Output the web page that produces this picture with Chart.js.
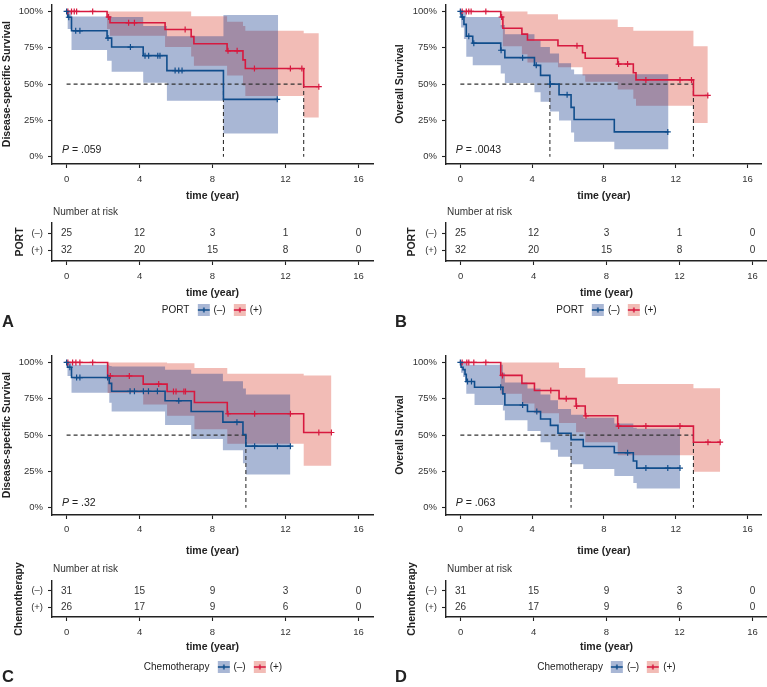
<!DOCTYPE html>
<html>
<head>
<meta charset="utf-8">
<script src="https://cdn.jsdelivr.net/npm/chart.js@4.4.1/dist/chart.umd.min.js"></script>
<style>
  body { margin: 0; background: #fff; }
  #fig { position: relative; width: 767px; height: 687px; overflow: hidden;
         font-family: "Liberation Sans", Arial, Helvetica, sans-serif; color: #222; }
  #fig > canvas { position: absolute; }
  .legend { position: absolute; display: flex; align-items: center; font-size: 10px;
            color: #222; transform: translate(-50%, -50%); white-space: nowrap; }
  .letter { position: absolute; font-weight: bold; font-size: 16.5px; line-height: 16px;
            transform: translateY(-50%); }
</style>
</head>
<body>
<div id="fig"></div>
<script>
// ---- data ----
const yearTicks = [0, 4, 8, 12, 16];
const survTicks = [0, 0.25, 0.5, 0.75, 1];
const groupLabels = ['(–)', '(+)'];
const pValues = ['.059', '.0043', '.32', '.063'];

// A: disease-specific survival, PORT
const aNegTime = [0, 0.06, 0.27, 2.22, 2.47, 4.2, 5.5, 8.6];
const aNegSurv = [1, 0.96, 0.867, 0.817, 0.755, 0.696, 0.593, 0.395];
const aNegLow  = [1, 0.88, 0.735, 0.66, 0.585, 0.51, 0.385, 0.16];
const aNegHigh = [1, 1, 0.965, 0.965, 0.962, 0.9, 0.83, 0.975];
const aNegEnd = 11.6;
const aNegCensor = [0, 0.12, 0.5, 0.73, 2.27, 3.5, 4.3, 4.5, 5.0, 5.12, 5.95, 6.15, 6.33, 11.55];
const aPosTime = [0, 2.22, 2.38, 5.4, 6.83, 6.98, 8.8, 9.67, 9.8, 13.0];
const aPosSurv = [1, 0.962, 0.922, 0.876, 0.827, 0.778, 0.729, 0.667, 0.607, 0.482];
const aPosLow  = [1, 0.88, 0.833, 0.755, 0.69, 0.627, 0.56, 0.49, 0.418, 0.27];
const aPosHigh = [1, 1, 1, 1, 0.967, 0.967, 0.93, 0.9, 0.867, 0.85];
const aPosEnd = 13.83;
const aPosCensor = [0.07, 0.27, 0.42, 0.55, 1.43, 2.3, 3.4, 3.72, 6.5, 8.85, 9.35, 10.3, 12.27, 12.9, 13.83];

// B: overall survival, PORT
const bNegTime = [0, 0.04, 0.2, 0.33, 0.69, 2.25, 2.48, 4.13, 4.47, 4.99, 5.5, 6.17, 6.34, 8.58];
const bNegSurv = [1, 0.962, 0.911, 0.829, 0.782, 0.733, 0.682, 0.629, 0.56, 0.5, 0.427, 0.34, 0.256, 0.171];
const bNegLow  = [1, 0.889, 0.81, 0.689, 0.629, 0.573, 0.507, 0.444, 0.378, 0.311, 0.249, 0.167, 0.104, 0.051];
const bNegHigh = [1, 1, 1, 0.962, 0.962, 0.907, 0.844, 0.8, 0.756, 0.71, 0.644, 0.6, 0.567, 0.567];
const bNegEnd = 11.6;
const bNegCensor = [0, 0.11, 0.47, 0.75, 2.27, 3.47, 4.23, 5.02, 5.95, 11.56];
const bPosTime = [0, 2.25, 2.37, 3.43, 3.74, 5.44, 6.81, 6.96, 8.77, 9.64, 9.79, 12.99];
const bPosSurv = [1, 0.962, 0.884, 0.844, 0.804, 0.764, 0.716, 0.678, 0.638, 0.578, 0.529, 0.422];
const bPosLow  = [1, 0.89, 0.76, 0.705, 0.649, 0.616, 0.56, 0.516, 0.462, 0.4, 0.351, 0.233];
const bPosHigh = [1, 1, 1, 1, 0.98, 0.944, 0.944, 0.944, 0.893, 0.867, 0.867, 0.76];
const bPosEnd = 13.79;
const bPosCensor = [0.1, 0.33, 0.47, 0.6, 1.42, 2.3, 6.5, 8.82, 9.32, 10.34, 12.24, 12.88, 13.79];

// C: disease-specific survival, chemotherapy
const cNegTime = [0, 0.05, 0.27, 2.34, 2.47, 5.4, 6.83, 8.57, 9.67, 9.83];
const cNegSurv = [1, 0.967, 0.896, 0.856, 0.802, 0.736, 0.662, 0.589, 0.504, 0.424];
const cNegLow  = [1, 0.907, 0.791, 0.722, 0.662, 0.569, 0.473, 0.396, 0.307, 0.229];
const cNegHigh = [1, 1, 0.984, 0.975, 0.973, 0.95, 0.922, 0.87, 0.82, 0.78];
const cNegEnd = 12.27;
const cNegCensor = [0, 0.18, 0.55, 0.73, 2.25, 3.48, 3.72, 4.21, 4.49, 4.98, 6.15, 9.34, 10.31, 11.56, 12.27];
const cPosTime = [0, 2.25, 4.2, 5.51, 7.01, 8.81, 13.0];
const cPosSurv = [1, 0.907, 0.851, 0.8, 0.724, 0.647, 0.518];
const cPosLow  = [1, 0.789, 0.711, 0.633, 0.54, 0.44, 0.289];
const cPosHigh = [1, 1, 1, 0.995, 0.962, 0.922, 0.911];
const cPosEnd = 14.52;
const cPosCensor = [0.07, 0.33, 0.51, 0.73, 1.43, 2.4, 3.44, 5.05, 5.86, 6.0, 6.43, 6.52, 8.85, 10.31, 12.27, 13.83, 14.52];

// D: overall survival, chemotherapy
const dNegTime = [0, 0.04, 0.15, 0.26, 0.33, 0.79, 2.37, 2.48, 3.74, 4.47, 5.02, 5.44, 6.17, 6.85, 8.58, 9.64, 9.83];
const dNegSurv = [1, 0.967, 0.951, 0.918, 0.869, 0.829, 0.784, 0.707, 0.662, 0.611, 0.567, 0.513, 0.469, 0.422, 0.378, 0.322, 0.273];
const dNegLow  = [1, 0.93, 0.9, 0.86, 0.784, 0.707, 0.67, 0.602, 0.529, 0.451, 0.4, 0.351, 0.3, 0.267, 0.218, 0.17, 0.133];
const dNegHigh = [1, 1, 1, 1, 0.984, 0.984, 0.93, 0.862, 0.82, 0.78, 0.74, 0.68, 0.64, 0.62, 0.58, 0.55, 0.544];
const dNegEnd = 12.24;
const dNegCensor = [0, 0.4, 0.62, 2.25, 3.47, 4.26, 9.32, 10.34, 11.56, 12.24];
const dPosTime = [0, 2.25, 3.43, 4.13, 5.5, 6.45, 6.96, 8.77, 12.99];
const dPosSurv = [1, 0.911, 0.856, 0.807, 0.751, 0.7, 0.633, 0.562, 0.451];
const dPosLow  = [1, 0.784, 0.718, 0.651, 0.584, 0.52, 0.451, 0.362, 0.247];
const dPosHigh = [1, 1, 1, 1, 0.962, 0.962, 0.896, 0.851, 0.822];
const dPosEnd = 14.48;
const dPosCensor = [0.1, 0.36, 0.47, 0.75, 1.42, 2.35, 5.04, 5.9, 6.48, 7.0, 8.82, 10.34, 12.24, 13.8, 14.48];

// number at risk at yearTicks
const portRiskNeg = [25, 12, 3, 1, 0];
const portRiskPos = [32, 20, 15, 8, 0];
const chemoRiskNeg = [31, 15, 9, 3, 0];
const chemoRiskPos = [26, 17, 9, 6, 0];

// ---- styling ----
const FONT = '"Liberation Sans", Arial, Helvetica, sans-serif';
Chart.defaults.font.family = FONT;
Chart.defaults.color = '#333';
Chart.defaults.animation = false;

const BLUE = '#104d8c', RED = '#d7193f';
const BLUE_FILL = 'rgba(10,50,135,0.35)', RED_FILL = 'rgba(216,52,34,0.33)';
const INK = '#222';

const fig = document.getElementById('fig');

function addCanvas(left, top, w, h) {
  const c = document.createElement('canvas');
  c.width = w; c.height = h;
  c.style.left = left + 'px'; c.style.top = top + 'px';
  c.style.width = w + 'px'; c.style.height = h + 'px';
  fig.appendChild(c);
  return c;
}

function stepPoints(time, vals, end) {
  const pts = time.map((t, i) => ({x: t, y: vals[i]}));
  pts.push({x: end, y: vals[vals.length - 1]});
  return pts;
}
function survAt(time, surv, t) {
  let s = surv[0];
  for (let i = 0; i < time.length; i++) if (time[i] <= t) s = surv[i];
  return s;
}
function medianOf(time, surv) {
  for (let i = 0; i < surv.length; i++) if (surv[i] <= 0.5) return time[i];
  return null;
}

const annotate = {
  id: 'annotate',
  afterDatasetsDraw(chart, args, o) {
    const ctx = chart.ctx, a = chart.chartArea;
    ctx.save();
    ctx.fillStyle = INK;
    ctx.textBaseline = 'middle';
    if (o.pValue) {
      const x = chart.scales.x.getPixelForValue(-0.25);
      const y = chart.scales.y.getPixelForValue(o.pY);
      ctx.textAlign = 'left';
      ctx.font = 'italic 10.5px ' + FONT;
      ctx.fillText('P', x, y);
      const w = ctx.measureText('P').width;
      ctx.font = '10.5px ' + FONT;
      ctx.fillText(' = ' + o.pValue, x + w, y);
    }
    if (o.riskTitle) {
      ctx.textAlign = 'left';
      ctx.font = '10px ' + FONT;
      ctx.fillStyle = '#333';
      ctx.fillText('Number at risk', a.left + 1, a.top - o.titleGap);
    }
    if (o.counts) {
      ctx.textAlign = 'center';
      ctx.font = '10px ' + FONT;
      ctx.fillStyle = '#333';
      chart.data.datasets.forEach((ds, d) => {
        chart.getDatasetMeta(d).data.forEach((pt, i) => ctx.fillText(String(ds.counts[i]), pt.x, pt.y));
      });
    }
    ctx.restore();
  }
};

function xScale(P, tickPad, titlePB, h) {
  return {
    type: 'linear', min: -0.8, max: 16.8,
    afterBuildTicks: s => { s.ticks = yearTicks.map(v => ({value: v})); },
    afterFit: s => { s.height = h; s.paddingLeft = 0; s.paddingRight = 0; },
    ticks: {padding: tickPad, color: '#333', font: {size: 9.5}, maxRotation: 0, autoSkip: false},
    grid: {drawOnChartArea: false, drawTicks: true, tickLength: 4, color: INK, tickWidth: 1.1},
    border: {display: true, color: INK, width: 1.4},
    title: {display: true, text: 'time (year)', color: INK, font: {size: 10.5, weight: 'bold'},
            padding: {top: 0, bottom: titlePB}}
  };
}

function makePanel(P) {
  // survival curves
  const kmH = 165 + P.kmXH;
  const c1 = addCanvas(P.left, P.kmTop, P.width, kmH);
  const g = [
    {time: P.neg[0], surv: P.neg[1], low: P.neg[2], high: P.neg[3], end: P.neg[4], cens: P.neg[5], col: BLUE, fill: BLUE_FILL},
    {time: P.pos[0], surv: P.pos[1], low: P.pos[2], high: P.pos[3], end: P.pos[4], cens: P.pos[5], col: RED, fill: RED_FILL}
  ];
  const ds = [];
  g.forEach(s => {
    ds.push({data: stepPoints(s.time, s.low, s.end), stepped: true, borderWidth: 0, pointRadius: 0, fill: false, order: 4});
    ds.push({data: stepPoints(s.time, s.high, s.end), stepped: true, borderWidth: 0, pointRadius: 0,
             fill: '-1', backgroundColor: s.fill, order: 4});
  });
  const meds = g.map(s => medianOf(s.time, s.surv)).filter(m => m !== null);
  const mMax = Math.max(...meds);
  const medPts = [{x: 0, y: 0.5}, {x: mMax, y: 0.5}];
  meds.forEach(m => { medPts.push({x: m, y: null}, {x: m, y: 0.5}, {x: m, y: 0}); });
  ds.push({data: medPts, borderColor: '#333', borderWidth: 1.1, borderDash: [4, 3], pointRadius: 0,
           fill: false, spanGaps: false, order: 3});
  g.forEach(s => {
    ds.push({data: stepPoints(s.time, s.surv, s.end), stepped: true, borderColor: s.col, borderWidth: 1.6,
             pointRadius: 0, fill: false, order: 2});
    ds.push({data: s.cens.map(t => ({x: t, y: survAt(s.time, s.surv, t)})), showLine: false,
             pointStyle: 'cross', pointRadius: 3, pointBorderWidth: 1.2, pointBorderColor: s.col,
             pointBackgroundColor: s.col, order: 1});
  });
  new Chart(c1, {
    type: 'line',
    data: {datasets: ds},
    plugins: [annotate],
    options: {
      responsive: false, devicePixelRatio: 1,
      layout: {padding: {left: 0, right: P.padR, top: 0, bottom: 0}},
      plugins: {legend: {display: false}, tooltip: {enabled: false},
                annotate: {pValue: P.p, pY: P.pY}},
      scales: {
        x: xScale(P, P.kmTickPad, P.kmTitlePB, P.kmXH),
        y: {
          type: 'linear', min: -0.05, max: 1.05,
          afterBuildTicks: s => { s.ticks = survTicks.map(v => ({value: v})); },
          afterFit: s => { s.width = P.yW; s.paddingTop = 0; s.paddingBottom = 0; },
          ticks: {padding: 5, color: '#333', font: {size: 9.5}, callback: v => Math.round(v * 100) + '%'},
          grid: {drawOnChartArea: false, drawTicks: true, tickLength: 4, color: INK, tickWidth: 1.1},
          border: {display: true, color: INK, width: 1.4},
          title: {display: true, text: P.yTitle, color: INK, font: {size: 10.5, weight: 'bold'},
                  padding: {top: P.kmYTitlePT, bottom: 0}}
        }
      }
    }
  });

  // number at risk table
  const riskH = 23 + P.riskChartH + P.riskXH;
  const c2 = addCanvas(P.left, P.riskTop, P.width, riskH);
  new Chart(c2, {
    type: 'line',
    data: {datasets: [
      {data: yearTicks.map(t => ({x: t, y: 2})), counts: P.riskNeg, showLine: false, pointRadius: 0},
      {data: yearTicks.map(t => ({x: t, y: 1})), counts: P.riskPos, showLine: false, pointRadius: 0}
    ]},
    plugins: [annotate],
    options: {
      responsive: false, devicePixelRatio: 1,
      layout: {padding: {left: 0, right: P.padR, top: 23, bottom: 0}},
      plugins: {legend: {display: false}, tooltip: {enabled: false},
                annotate: {riskTitle: true, counts: true, titleGap: P.riskTitleGap}},
      scales: {
        x: xScale(P, P.riskTickPad, P.riskTitlePB, P.riskXH),
        y: {
          type: 'linear', min: 0.4, max: 2.6,
          afterBuildTicks: s => { s.ticks = [{value: 1}, {value: 2}]; },
          afterFit: s => { s.width = P.yW; s.paddingTop = 0; s.paddingBottom = 0; },
          ticks: {padding: 5, color: '#333', font: {size: 9.5},
                  callback: v => (v === 2 ? groupLabels[0] : groupLabels[1])},
          grid: {drawOnChartArea: false, drawTicks: true, tickLength: 4, color: INK, tickWidth: 1.1},
          border: {display: true, color: INK, width: 1.4},
          title: {display: true, text: P.factor, color: INK, font: {size: 10.5, weight: 'bold'},
                  padding: {top: P.riskYTitlePT, bottom: 0}}
        }
      }
    }
  });

  // legend
  const lg = document.createElement('div');
  lg.className = 'legend';
  lg.style.left = P.legendX + 'px';
  lg.style.top = P.legendY + 'px';
  const name = document.createElement('span');
  name.textContent = P.factor;
  lg.appendChild(name);
  g.forEach((s, i) => {
    const k = document.createElement('canvas');
    k.width = 12; k.height = 12;
    k.style.marginLeft = '8px';
    const x = k.getContext('2d');
    x.fillStyle = s.fill; x.fillRect(0, 0, 12, 12);
    x.strokeStyle = s.col; x.lineWidth = 1.5;
    x.beginPath(); x.moveTo(0, 6); x.lineTo(12, 6); x.moveTo(6, 3.5); x.lineTo(6, 8.5); x.stroke();
    lg.appendChild(k);
    const t = document.createElement('span');
    t.textContent = groupLabels[i];
    t.style.marginLeft = '4px';
    lg.appendChild(t);
  });
  fig.appendChild(lg);

  const L = document.createElement('div');
  L.className = 'letter';
  L.textContent = P.letter;
  L.style.left = P.letterX + 'px';
  L.style.top = P.letterY + 'px';
  fig.appendChild(L);
}

const base = {kmXH: 44, riskXH: 40, riskTitleGap: 10.5};
const panels = [
  Object.assign({}, base, {letter: 'A', left: 0, width: 380, yW: 52, padR: 7, kmTop: -1,
    kmTickPad: 6, kmTitlePB: 6, kmYTitlePT: 1, yTitle: 'Disease-specific Survival', p: pValues[0], pY: 0.045,
    riskTop: 200, riskChartH: 38, riskTickPad: 6, riskTitlePB: 2, riskYTitlePT: 14, factor: 'PORT',
    riskNeg: portRiskNeg, riskPos: portRiskPos, legendX: 212, legendY: 309.5, letterX: 2, letterY: 321,
    neg: [aNegTime, aNegSurv, aNegLow, aNegHigh, aNegEnd, aNegCensor],
    pos: [aPosTime, aPosSurv, aPosLow, aPosHigh, aPosEnd, aPosCensor]}),
  Object.assign({}, base, {letter: 'B', left: 380, width: 387, yW: 66, padR: 0, kmTop: -1,
    kmTickPad: 6, kmTitlePB: 6, kmYTitlePT: 13.5, yTitle: 'Overall Survival', p: pValues[1], pY: 0.045,
    riskTop: 200, riskChartH: 38, riskTickPad: 6, riskTitlePB: 2, riskYTitlePT: 25.7, factor: 'PORT',
    riskNeg: portRiskNeg, riskPos: portRiskPos, legendX: 606.5, legendY: 309.5, letterX: 395, letterY: 321,
    neg: [bNegTime, bNegSurv, bNegLow, bNegHigh, bNegEnd, bNegCensor],
    pos: [bPosTime, bPosSurv, bPosLow, bPosHigh, bPosEnd, bPosCensor]}),
  Object.assign({}, base, {letter: 'C', left: 0, width: 380, yW: 52, padR: 7, kmTop: 350,
    kmTickPad: 5, kmTitlePB: 1.5, kmYTitlePT: 1, yTitle: 'Disease-specific Survival', p: pValues[2], pY: 0.03,
    riskTop: 558, riskChartH: 36, riskXH: 38, riskTickPad: 5.5, riskTitlePB: 1.5, riskYTitlePT: 13.2,
    riskTitleGap: 11.7, factor: 'Chemotherapy',
    riskNeg: chemoRiskNeg, riskPos: chemoRiskPos, legendX: 213, legendY: 666.5, letterX: 2, letterY: 676,
    neg: [cNegTime, cNegSurv, cNegLow, cNegHigh, cNegEnd, cNegCensor],
    pos: [cPosTime, cPosSurv, cPosLow, cPosHigh, cPosEnd, cPosCensor]}),
  Object.assign({}, base, {letter: 'D', left: 380, width: 387, yW: 66, padR: 0, kmTop: 350,
    kmTickPad: 5, kmTitlePB: 1.5, kmYTitlePT: 13.5, yTitle: 'Overall Survival', p: pValues[3], pY: 0.03,
    riskTop: 558, riskChartH: 36, riskXH: 38, riskTickPad: 5.5, riskTitlePB: 1.5, riskYTitlePT: 25.7,
    riskTitleGap: 11.7, factor: 'Chemotherapy',
    riskNeg: chemoRiskNeg, riskPos: chemoRiskPos, legendX: 606.5, legendY: 666.5, letterX: 395, letterY: 676,
    neg: [dNegTime, dNegSurv, dNegLow, dNegHigh, dNegEnd, dNegCensor],
    pos: [dPosTime, dPosSurv, dPosLow, dPosHigh, dPosEnd, dPosCensor]})
];
panels.forEach(makePanel);
</script>
</body>
</html>
